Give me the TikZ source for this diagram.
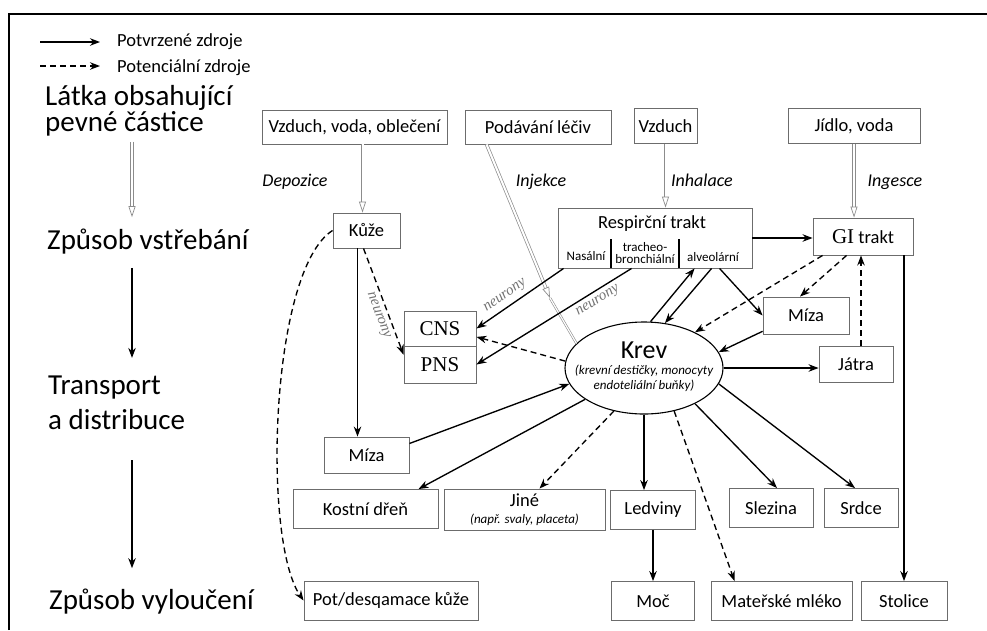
\documentclass[tikz,border=0pt]{standalone}
\usepackage{fontspec}
\setmainfont{Carlito}
\newfontfamily\timesfont{Liberation Serif}
\usetikzlibrary{arrows.meta, positioning, shapes.geometric}
\newcommand{\boxfont}{\fontsize{18.5}{20}\selectfont}
\newcommand{\stagefont}{\fontsize{29}{21}\selectfont}
\newcommand{\legendfont}{\fontsize{18.5}{20}\selectfont}
\newcommand{\routefont}{\itshape\fontsize{18}{20}\selectfont}
\newcommand{\nervefont}{\timesfont\itshape\fontsize{15}{16}\selectfont}
\newcommand{\respfont}{\fontsize{13}{12}\selectfont}
\newcommand{\nsfont}{\timesfont\fontsize{21}{22}\selectfont}

\begin{document}
\begin{tikzpicture}[
        x=1pt, y=-1pt,
        box/.style={rectangle, draw=gray!85!black, line width=0.9pt, minimum height=36pt, inner sep=2pt, align=center, font=\boxfont},
        stage/.style={anchor=west, align=left, inner sep=0pt, font=\stagefont},
        route/.style={font=\routefont},
        nerve/.style={font=\nervefont, text=gray!90!black},
        arrow/.style={-{Stealth[length=10pt, width=7.5pt]}, line width=1.35pt},
        dasharrow/.style={arrow, dash pattern=on 6pt off 4pt},
        intake/.style={draw=gray!90, double=white, double distance=2pt, line width=0.7pt, -{Triangle[open, length=11pt, width=7pt]}}
    ]
    \useasboundingbox (0,0) rectangle (987,630);

    % Frame
    \draw[line width=2.5pt] (9,630) -- (9,14) -- (987,14);

    % Legend
    \coordinate (lga) at (40,42);
    \coordinate (lgb) at (100,42);
    \coordinate (lgc) at (40,66);
    \coordinate (lgd) at (100,66);
    \draw[arrow] (lga) -- (lgb);
    \draw[dasharrow] (lgc) -- (lgd);
    \node[anchor=west, inner sep=0pt, font=\legendfont] (lgsolid) at (117,42) {Potvrzené zdroje};
    \node[anchor=west, inner sep=0pt, font=\legendfont] (lgdash) at (117,68) {Potenciální zdroje};

    % Left column: stages
    \node[stage] (stage1) at (45,111) {Látka obsahující\\pevné částice};
    \node[stage] (stage2) at (47,242) {Způsob vstřebání};
    \node[stage, font=\fontsize{29}{35}\selectfont] (stage3) at (48,403) {Transport\\a distribuce};
    \node[stage] (stage4) at (49,602) {Způsob vyloučení};
    \coordinate (axis) at (132,0);
    \draw[intake] ([yshift=-5pt]stage1.south -| axis) -- ([yshift=12pt]stage2.north -| axis);
    \draw[arrow] ([yshift=-13pt]stage2.south -| axis) -- ([yshift=18pt]stage3.north -| axis);
    \draw[arrow] ([yshift=-30pt]stage3.south -| axis) -- ([yshift=21pt]stage4.north -| axis);

    % Stage 1: Sources
    \node[box, minimum width=185pt, minimum height=34pt] (air) at (354.5,127) {Vzduch, voda, oblečení};
    \node[box, minimum width=146pt, minimum height=34pt] (drugs) at (538,127) {Podávání léčiv};
    \node[box, minimum width=63pt, minimum height=35pt] (air2) at (665.5,126) {Vzduch};
    \node[box, minimum width=132pt, minimum height=35pt] (food) at (854,126) {Jídlo, voda};

    \node[route] (depo) at (295,182) {Depozice};
    \node[route] (inje) at (541,182) {Injekce};
    \node[route] (inha) at (702,180) {Inhalace};
    \node[route] (inge) at (895,182) {Ingesce};

    % Stage 2: Absorption
    \node[box, minimum width=67pt, minimum height=35pt] (skin) at (366.5,230.5) {Kůže};
    \node[box, minimum width=194pt, minimum height=60pt] (resp) at (655,238) {};
    \node[font=\boxfont, inner sep=0pt] (resptitle) at (652,224) {Respirční trakt};
    \node[font=\respfont, inner sep=0pt] (nasal) at (586,256) {Nasální};
    \node[font=\respfont, inner sep=0pt, align=center] (bronch) at (645,253) {tracheo-\\bronchiální};
    \node[font=\respfont, inner sep=0pt] (alveo) at (713,257) {alveolární};
    \draw[line width=1.5pt] (611,239) -- (611,268);
    \draw[line width=1.5pt] (679,239) -- (679,268);
    \node[box, minimum width=100pt, minimum height=37pt] (gi) at (863,236.5) {{\nsfont GI} trakt};

    % Stage 3: Transport
    \node[box, minimum width=72pt, minimum height=35pt, font=\nsfont] (cns) at (440,328.5) {CNS};
    \node[box, minimum width=72pt, minimum height=37pt, font=\nsfont, below=-0.9pt of cns] (pns) {PNS};
    \node[ellipse, draw, line width=1.1pt, minimum width=158pt, minimum height=92pt, inner sep=0pt] (krev) at (644,368) {};
    \node[align=center, inner sep=0pt] (krevtext) at (644,367) {{\fontsize{26}{26}\selectfont Krev}\\[4pt]{\itshape\fontsize{13}{16}\selectfont (krevní destičky, monocyty}\\[3pt]{\itshape\fontsize{13}{16}\selectfont endoteliální buňky)}};
    \node[box, minimum width=86pt, minimum height=37pt] (lymphR) at (806,315.5) {Míza};
    \node[box, minimum width=74pt, minimum height=36pt] (liver) at (856,364) {Játra};
    \node[box, minimum width=85pt, minimum height=36pt] (lymphL) at (366.5,455) {Míza};

    \node[box, minimum width=145pt, minimum height=39pt] (marrow) at (365.5,509) {Kostní dřeň};
    \node[box, minimum width=161pt, minimum height=41pt] (other) at (524.5,509.5) {Jiné\\[-3pt]{\itshape\fontsize{13}{14}\selectfont (např. svaly, placeta)}};
    \node[box, minimum width=85pt, minimum height=39pt] (kidney) at (653,510) {Ledviny};
    \node[box, minimum width=84pt, minimum height=39pt] (spleen) at (771,508) {Slezina};
    \node[box, minimum width=74pt, minimum height=39pt] (heart) at (861,508) {Srdce};

    % Stage 4: Excretion
    \node[box, minimum width=174pt, minimum height=39pt] (sweat) at (391,600.5) {Pot/desqamace kůže};
    \node[box, minimum width=83pt, minimum height=39pt] (urine) at (653,601) {Moč};
    \node[box, minimum width=141pt, minimum height=39pt] (milk) at (781.5,601) {Mateřské mléko};
    \node[box, minimum width=86pt, minimum height=39pt] (stool) at (904,601) {Stolice};

    % Intake routes
    \draw[intake] ([xshift=8pt]air.south) -- ([xshift=8pt]air.south |- skin.north);
    \draw[intake] (air2.south) -- (air2.south |- resp.north);
    \draw[intake] (food.south) -- (food.south |- gi.north);
    \coordinate (needle) at (550,298);
    \draw[intake] ([xshift=22pt]drugs.south west) -- (needle);
    \draw[draw=gray!90, double=white, double distance=1.2pt, line width=0.6pt] (needle) -- (krev.160);

    % Respiratory and GI tract
    \draw[arrow] (resp.east) -- (resp.east -| gi.west);
    \draw[arrow] ([xshift=6pt]resp.south west) -- node[nerve, sloped, above=1pt, pos=0.6] {neurony} (cns.east);
    \draw[arrow] ([xshift=74pt]resp.south west) -- node[nerve, sloped, below=1pt, pos=0.25] {neurony} (pns.east);
    \draw[arrow] (krev.82) -- ([xshift=137pt]resp.south west);
    \draw[arrow] ([xshift=154pt]resp.south west) -- (krev.65);
    \draw[arrow] ([xshift=162pt]resp.south west) -- (lymphR.west);
    \draw[dasharrow] ([xshift=10pt]gi.south west) -- (krev.35);
    \draw[dasharrow] ([xshift=34pt]gi.south west) -- ([xshift=-6pt]lymphR.north);
    \draw[dasharrow] ([xshift=5pt]liver.north) -- ([xshift=5pt]liver.north |- gi.south);
    \draw[arrow] (stool.north |- gi.south) -- (stool.north);
    \draw[arrow] (lymphR.200) -- (krev.12);
    \draw[arrow] (krev.east) -- (krev.east -| liver.west);

    % Skin
    \draw[arrow] ([xshift=-9pt]skin.south) -- ([xshift=-9pt]skin.south |- lymphL.north);
    \draw[dasharrow] ([xshift=-3pt]skin.south) -- node[nerve, sloped, below=1pt, pos=0.6] {neurony} (pns.165);
    \draw[dasharrow] (skin.west) .. controls (270,270) and (262,540) .. (sweat.west);

    % Blood
    \draw[dasharrow] (krev.175) -- (cns.-13);
    \draw[arrow] (lymphL.15) -- (krev.192);
    \draw[arrow] (krev.208) -- ([xshift=53pt]marrow.north);
    \draw[dasharrow] (krev.235) -- ([xshift=15pt]other.north);
    \draw[arrow] (krev.south) -- (krev.south |- kidney.north);
    \draw[dasharrow] (krev.305) -- ([xshift=-47pt]milk.north);
    \draw[arrow] (krev.325) -- ([xshift=6pt]spleen.north);
    \draw[arrow] (krev.348) -- ([xshift=-6pt]heart.north);
    \draw[arrow] (kidney.south) -- (urine.north);

\end{tikzpicture}
\end{document}
